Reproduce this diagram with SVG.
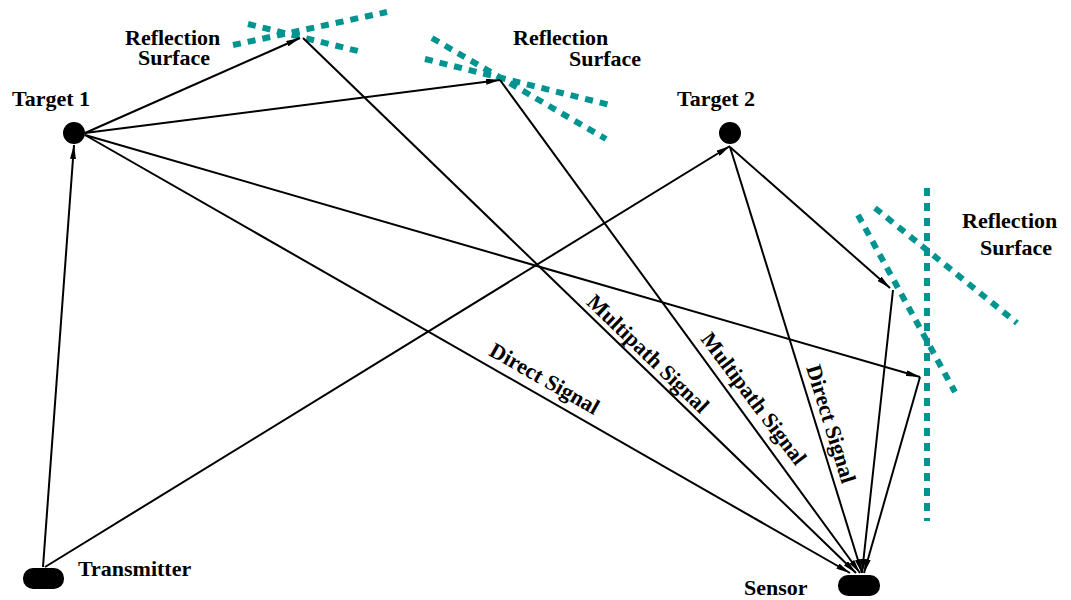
<svg xmlns="http://www.w3.org/2000/svg" width="1071" height="600" viewBox="0 0 1071 600">
<style>
.lbl{font-family:"Liberation Serif","Times New Roman",serif;font-weight:bold;font-size:22px;fill:#000}
.conn{stroke:#000;stroke-width:2;fill:none}
.arr{marker-end:url(#ah)}
.surf{stroke:#009490;stroke-width:6;stroke-dasharray:8 7;fill:none}
</style>
<defs>
<marker id="ah" markerUnits="userSpaceOnUse" viewBox="0 0 14 6" refX="14" refY="3" markerWidth="14" markerHeight="6" orient="auto">
<path d="M0,0 L14,3 L0,6 z" fill="#000"/>
</marker>
</defs>
<rect width="1071" height="600" fill="#fff"/>

<g id="surface1">
<line class="surf" x1="233" y1="45" x2="387" y2="12"/>
<line class="surf" x1="248" y1="24" x2="362" y2="52"/>
<text class="lbl" x="125" y="45">Reflection</text>
<text class="lbl" x="138" y="65">Surface</text>
</g>
<g id="surface2">
<line class="surf" x1="432" y1="38" x2="606" y2="139"/>
<line class="surf" x1="425" y1="59" x2="614" y2="106"/>
<text class="lbl" x="513" y="45">Reflection</text>
<text class="lbl" x="569" y="66">Surface</text>
</g>
<g id="surface3">
<line class="surf" x1="927" y1="188" x2="927" y2="521"/>
<line class="surf" x1="875" y1="208" x2="1017" y2="323"/>
<line class="surf" x1="858" y1="215" x2="955" y2="392"/>
<text class="lbl" x="962" y="228">Reflection</text>
<text class="lbl" x="980" y="255">Surface</text>
</g>

<g id="connectors">
<line class="conn arr" x1="43" y1="567" x2="74" y2="145"/>
<line class="conn arr" x1="45" y1="567" x2="730" y2="146"/>
<line class="conn arr" x1="85" y1="133" x2="300" y2="38"/>
<line class="conn arr" x1="85" y1="133" x2="500" y2="80"/>
<line class="conn arr" x1="303" y1="38" x2="856" y2="573"/>
<line class="conn arr" x1="500" y1="80" x2="860" y2="573"/>
<line class="conn arr" x1="85" y1="135" x2="850" y2="573"/>
<line class="conn arr" x1="85" y1="135" x2="920" y2="377"/>
<line class="conn arr" x1="920" y1="377" x2="864" y2="573"/>
<line class="conn arr" x1="730" y1="147" x2="862" y2="573"/>
<line class="conn arr" x1="730" y1="147" x2="890" y2="288"/>
<line class="conn arr" x1="893" y1="290" x2="862" y2="573"/>
<text class="lbl" text-anchor="middle" transform="translate(541,385) rotate(29.7)">Direct Signal</text>
<text class="lbl" text-anchor="middle" transform="translate(643,359) rotate(44)">Multipath Signal</text>
<text class="lbl" text-anchor="middle" transform="translate(748,403) rotate(53)">Multipath Signal</text>
<text class="lbl" text-anchor="middle" transform="translate(824,426) rotate(72.8)">Direct Signal</text>
</g>

<g id="target1">
<circle cx="74" cy="133" r="11" fill="#000"/>
<text class="lbl" x="12" y="106">Target 1</text>
</g>
<g id="target2">
<circle cx="730" cy="133" r="11" fill="#000"/>
<text class="lbl" x="677" y="106">Target 2</text>
</g>
<g id="transmitter">
<rect x="23" y="568" width="41" height="21" rx="10" fill="#000"/>
<text class="lbl" x="78" y="576">Transmitter</text>
</g>
<g id="sensor">
<rect x="838" y="575" width="42" height="21" rx="10" fill="#000"/>
<text class="lbl" x="744" y="595">Sensor</text>
</g>
</svg>
